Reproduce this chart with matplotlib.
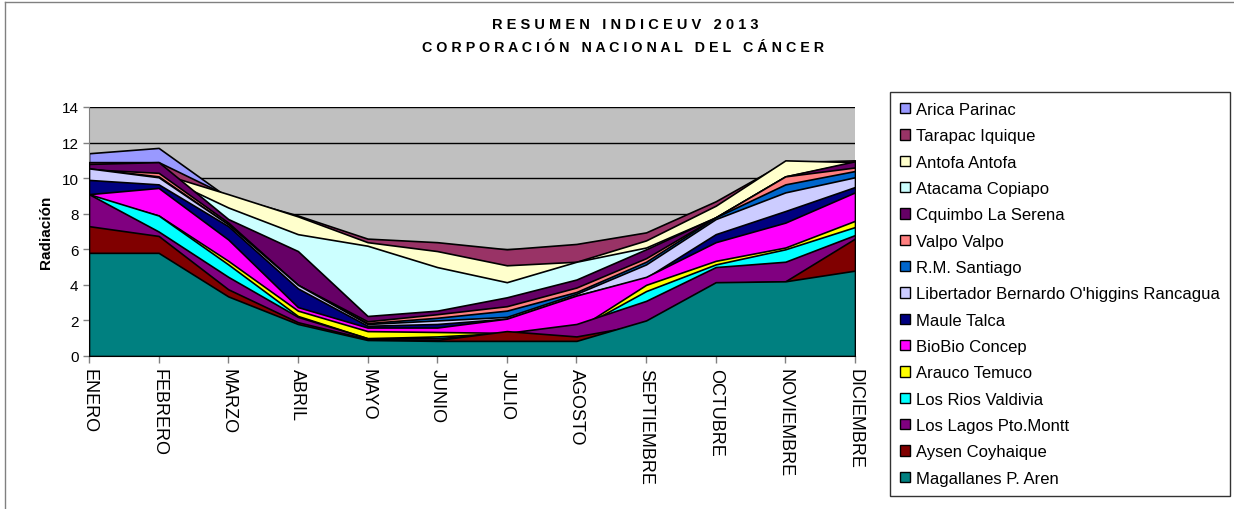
import matplotlib
matplotlib.use("Agg")
import matplotlib.pyplot as plt
from matplotlib.patches import Patch
import numpy as np

plt.rcParams['font.family'] = ['Liberation Sans', 'DejaVu Sans']

months = ["ENERO", "FEBRERO", "MARZO", "ABRIL", "MAYO", "JUNIO", "JULIO",
          "AGOSTO", "SEPTIEMBRE", "OCTUBRE", "NOVIEMBRE", "DICIEMBRE"]

series_names = ["Arica Parinac", "Tarapac Iquique", "Antofa Antofa", "Atacama Copiapo",
                "Cquimbo La Serena", "Valpo Valpo", "R.M. Santiago",
                "Libertador Bernardo O'higgins Rancagua", "Maule Talca", "BioBio Concep",
                "Arauco Temuco", "Los Rios Valdivia", "Los Lagos Pto.Montt",
                "Aysen Coyhaique", "Magallanes P. Aren"]

colors = ["#9999FF", "#993366", "#FFFFCC", "#CCFFFF", "#660066", "#FF8080", "#0066CC",
          "#CCCCFF", "#000080", "#FF00FF", "#FFFF00", "#00FFFF", "#800080",
          "#800000", "#008080"]

arica      = [11.4, 11.7, 8.9, 7.8, 6.5, 6.3, 5.9, 6.1, 6.8, 8.6, 10.8, 10.9]
tarapac    = [10.9, 10.9, 9.0, 7.9, 6.6, 6.4, 6.0, 6.3, 6.95, 8.7, 10.9, 11.0]
antofa     = [10.4, 10.3, 9.1, 7.85, 6.4, 5.9, 5.1, 5.3, 6.5, 8.45, 11.0, 10.9]
atacama    = [10.3, 10.2, 8.35, 6.85, 6.2, 5.0, 4.15, 5.3, 6.1, 7.8, 10.1, 10.9]
cquimbo    = [10.8, 10.9, 7.7, 5.9, 2.25, 2.55, 3.3, 4.3, 6.0, 7.8, 10.1, 10.95]
valpo      = [10.5, 10.3, 7.5, 4.0, 1.95, 2.35, 2.8, 3.85, 5.5, 7.8, 10.1, 10.6]
santiago   = [10.55, 10.1, 7.4, 4.0, 1.85, 2.15, 2.55, 3.6, 5.3, 7.8, 9.65, 10.4]
libertador = [10.55, 10.05, 7.4, 4.0, 1.8, 2.0, 2.2, 3.5, 5.15, 7.7, 9.2, 10.05]
maule      = [9.9, 9.65, 7.3, 3.8, 1.7, 1.8, 2.1, 3.4, 4.4, 6.85, 8.15, 9.5]
biobio     = [9.1, 9.45, 6.55, 2.75, 1.6, 1.6, 2.1, 3.4, 4.45, 6.4, 7.5, 9.2]
arauco     = [9.0, 7.9, 5.35, 2.55, 1.4, 1.35, 1.3, 1.5, 4.0, 5.35, 6.1, 7.6]
losrios    = [9.1, 7.9, 5.15, 2.25, 1.0, 1.1, 1.3, 1.5, 3.65, 5.15, 6.0, 7.25]
loslagos   = [9.1, 7.0, 4.45, 2.2, 1.0, 1.0, 1.3, 1.8, 3.1, 5.0, 5.3, 6.8]
aysen      = [7.3, 6.75, 3.75, 1.9, 0.95, 0.9, 1.4, 1.1, 1.8, 4.1, 4.2, 6.6]
magallanes = [5.8, 5.8, 3.35, 1.8, 0.9, 0.85, 0.85, 0.85, 2.0, 4.15, 4.2, 4.8]

series = [arica, tarapac, antofa, atacama, cquimbo, valpo, santiago, libertador,
          maule, biobio, arauco, losrios, loslagos, aysen, magallanes]

fig = plt.figure(figsize=(12.34, 5.10), dpi=100)
ax = fig.add_axes([89 / 1234, 1 - 357 / 510, (855 - 89) / 1234, (357 - 108) / 510])
ax.set_facecolor("#C0C0C0")

x = np.arange(len(months))
for i, (vals, col) in enumerate(zip(series, colors)):
    ax.fill_between(x, 0, vals, facecolor=col, edgecolor="black", linewidth=1.2,
                    zorder=2 + i)

ax.set_xlim(0, len(months) - 1)
ax.set_ylim(0, 14)
ax.set_yticks(np.arange(0, 15, 2))
ax.yaxis.grid(True, color="black", linewidth=1.0, zorder=1)
ax.set_axisbelow(True)
ax.set_xticks(x)
ax.set_xticklabels(months, rotation=270, fontsize=13)
ax.tick_params(axis="y", labelsize=11, length=4, width=1, color="#808080")
ax.tick_params(axis="x", length=5, width=1, color="#808080", pad=4)
for s in ["top", "right"]:
    ax.spines[s].set_visible(False)
ax.spines["left"].set_color("#808080")
ax.spines["bottom"].set_color("black")
ax.set_ylabel("Radiación", fontsize=11, fontweight="bold", labelpad=6)

fig.text(625 / 1234, 1 - 25 / 510, "R E S U M E N   I N D I C E U V   2 0 1 3",
         ha="center", va="center", fontsize=10.5, fontweight="bold")
fig.text(623 / 1234, 1 - 48 / 510,
         "C O R P O R A C I Ó N   N A C I O N A L   D E L   C Á N C E R",
         ha="center", va="center", fontsize=10.3, fontweight="bold")

handles = [Patch(facecolor=c, edgecolor="black", linewidth=1) for c in colors]
leg = fig.legend(handles, series_names, loc="upper left",
                 bbox_to_anchor=(890 / 1234, 1 - 93 / 510), fontsize=12,
                 frameon=True, fancybox=False, edgecolor="black",
                 handlelength=0.6, handleheight=0.6, handletextpad=0.35,
                 labelspacing=0.68, borderpad=0.6, borderaxespad=0)
leg.get_frame().set_linewidth(1.0)

# outer chart frame
fig.add_artist(plt.Line2D([5 / 1234, 5 / 1234], [0, 1 - 3 / 510],
                          transform=fig.transFigure, color="#808080", linewidth=1))
fig.add_artist(plt.Line2D([5 / 1234, 1], [1 - 3 / 510, 1 - 3 / 510],
                          transform=fig.transFigure, color="#808080", linewidth=1))

fig.savefig("out.png", dpi=100)
